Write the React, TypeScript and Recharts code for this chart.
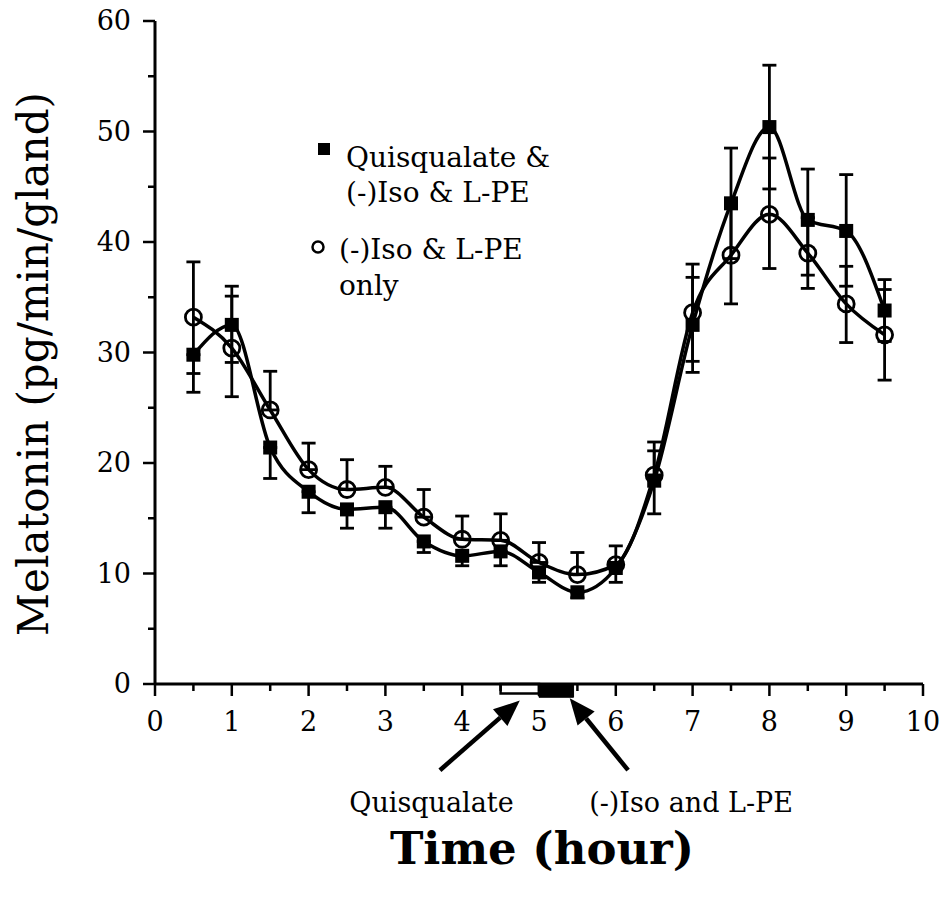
import {
  ErrorBar,
  Line,
  LineChart,
  ReferenceArea,
  ReferenceLine,
  XAxis,
  YAxis,
} from "recharts";

const FONT = "DejaVu Serif";

const hours = [0.5, 1, 1.5, 2, 2.5, 3, 3.5, 4, 4.5, 5, 5.5, 6, 6.5, 7, 7.5, 8, 8.5, 9, 9.5];

// Quisqualate & (-)Iso & L-PE
const quisMean = [29.8, 32.5, 21.4, 17.4, 15.8, 16.0, 12.9, 11.6, 12.0, 10.1, 8.3, 10.5, 18.4, 32.5, 43.5, 50.4, 42.0, 41.0, 33.8];
const quisErrLow = [3.4, 3.4, 2.8, 1.9, 1.7, 1.9, 1.0, 0.9, 1.3, 0.9, 0.5, 1.3, 3.0, 4.3, 5.0, 5.6, 5.0, 5.0, 2.8];
const quisErrHigh = [0, 3.5, 0, 0, 0, 0, 0, 0, 0, 0, 0, 0, 2.7, 4.3, 5.0, 5.6, 4.6, 5.1, 2.8];

// (-)Iso & L-PE only
const isoMean = [33.2, 30.4, 24.8, 19.4, 17.6, 17.8, 15.1, 13.1, 13.0, 11.0, 9.9, 10.8, 18.9, 33.6, 38.8, 42.5, 39.0, 34.4, 31.6];
const isoErrLow = [5.1, 4.4, 0, 0, 0, 0, 0, 0, 0, 0, 0, 0, 0, 4.4, 4.4, 4.9, 3.2, 3.5, 4.1];
const isoErrHigh = [5.0, 4.7, 3.5, 2.4, 2.7, 1.9, 2.5, 2.1, 2.4, 1.8, 2.0, 1.7, 3.0, 4.4, 4.4, 5.1, 3.2, 3.4, 4.1];

const xTicks = [0, 0.5, 1, 1.5, 2, 2.5, 3, 3.5, 4, 4.5, 5, 5.5, 6, 6.5, 7, 7.5, 8, 8.5, 9, 9.5, 10];
const yTicks = [0, 5, 10, 15, 20, 25, 30, 35, 40, 45, 50, 55, 60];

// treatment periods drawn on the time axis
const quisPeriod = [4.5, 5.0];
const isoPeriod = [5.0, 5.45];

// arrows: tail -> tip in data units
const arrowLabels = ["Quisqualate", "(-)Iso and L-PE"];
const arrowTails = [
  { x: 3.71, y: -7.8 },
  { x: 6.16, y: -7.8 },
];
const arrowTips = [
  { x: 4.75, y: -1.5 },
  { x: 5.4, y: -1.3 },
];
const arrowLabelX = [3.6, 6.98];

const legendLines = [
  ["Quisqualate &", "(-)Iso & L-PE"],
  ["(-)Iso & L-PE", "only"],
];

const rows = hours.map((h, i) => ({
  hour: h,
  quis: quisMean[i],
  quisErr: [quisErrLow[i], quisErrHigh[i]],
  iso: isoMean[i],
  isoErr: [isoErrLow[i], isoErrHigh[i]],
}));

function XTick(props: any) {
  const { x, y, payload } = props;
  const major = Number.isInteger(payload.value);
  return (
    <g>
      <line x1={x} y1={y} x2={x} y2={y + (major ? 12 : 7)} stroke="#000" strokeWidth={2.5} />
      {major && (
        <text x={x} y={y + 47} textAnchor="middle" fontFamily={FONT} fontSize={27} fill="#000">
          {payload.value}
        </text>
      )}
    </g>
  );
}

function YTick(props: any) {
  const { x, y, payload } = props;
  const major = payload.value % 10 === 0;
  return (
    <g>
      <line x1={x} y1={y} x2={x - (major ? 12 : 7)} y2={y} stroke="#000" strokeWidth={2.5} />
      {major && (
        <text x={x - 24} y={y + 9} textAnchor="end" fontFamily={FONT} fontSize={27} fill="#000">
          {payload.value}
        </text>
      )}
    </g>
  );
}

function SquareDot(props: any) {
  const { cx, cy, index } = props;
  if (cx == null || cy == null) return <g key={`sq-${index}`} />;
  return <rect key={`sq-${index}`} x={cx - 7} y={cy - 7} width={14} height={14} fill="#000" />;
}

function ArrowShape(props: any) {
  const { x1, y1, x2, y2 } = props;
  const dx = x2 - x1;
  const dy = y2 - y1;
  const len = Math.sqrt(dx * dx + dy * dy);
  const ux = dx / len;
  const uy = dy / len;
  const headLen = 26;
  const headHalf = 11;
  const bx = x2 - ux * headLen;
  const by = y2 - uy * headLen;
  const pts = `${x2},${y2} ${bx - uy * headHalf},${by + ux * headHalf} ${bx + uy * headHalf},${by - ux * headHalf}`;
  return (
    <g>
      <line x1={x1} y1={y1} x2={bx} y2={by} stroke="#000" strokeWidth={4.5} />
      <polygon points={pts} fill="#000" />
    </g>
  );
}

export default function App() {
  return (
    <div style={{ position: "absolute", left: 0, top: 0, background: "#fff" }}>
      <LineChart
        width={942}
        height={909}
        data={rows}
        margin={{ top: 21, right: 19, left: 0, bottom: 0 }}
      >
        <XAxis
          type="number"
          dataKey="hour"
          domain={[0, 10]}
          ticks={xTicks}
          interval={0}
          tickSize={0}
          tickMargin={0}
          tickLine={false}
          tick={<XTick />}
          axisLine={{ stroke: "#000", strokeWidth: 3 }}
          height={225}
        />
        <YAxis
          type="number"
          domain={[0, 60]}
          ticks={yTicks}
          interval={0}
          tickSize={0}
          tickMargin={0}
          tickLine={false}
          tick={<YTick />}
          axisLine={{ stroke: "#000", strokeWidth: 3 }}
          width={155}
        />
        <ReferenceArea
          x1={quisPeriod[0]}
          x2={quisPeriod[1]}
          y1={-0.85}
          y2={0}
          ifOverflow="visible"
          fill="#fff"
          fillOpacity={1}
          stroke="#000"
          strokeWidth={2.5}
        />
        <ReferenceArea
          x1={isoPeriod[0]}
          x2={isoPeriod[1]}
          y1={-1.2}
          y2={0}
          ifOverflow="visible"
          fill="#000"
          fillOpacity={1}
          stroke="#000"
        />
        {arrowTails.map((tail, i) => (
          <ReferenceLine
            key={`arrow-${i}`}
            segment={[tail, arrowTips[i]]}
            ifOverflow="visible"
            shape={ArrowShape}
          />
        ))}
        <Line
          type="monotone"
          dataKey="iso"
          name="(-)Iso & L-PE only"
          stroke="#000"
          strokeWidth={3.5}
          dot={{ r: 8, fill: "none", stroke: "#000", strokeWidth: 2.8 }}
          activeDot={false}
          isAnimationActive={false}
        >
          <ErrorBar dataKey="isoErr" direction="y" width={7} stroke="#000" strokeWidth={2.8} isAnimationActive={false} />
        </Line>
        <Line
          type="monotone"
          dataKey="quis"
          name="Quisqualate & (-)Iso & L-PE"
          stroke="#000"
          strokeWidth={3.5}
          dot={<SquareDot />}
          activeDot={false}
          isAnimationActive={false}
        >
          <ErrorBar dataKey="quisErr" direction="y" width={7} stroke="#000" strokeWidth={2.8} isAnimationActive={false} />
        </Line>
        {/* legend */}
        <g transform="translate(300, 130)">
          <rect x={18} y={13} width={12} height={12} fill="#000" />
          <text fontFamily={FONT} fontSize={28} fill="#000">
            <tspan x={46} y={37}>{legendLines[0][0]}</tspan>
            <tspan x={46} y={72}>{legendLines[0][1]}</tspan>
          </text>
          <circle cx={18} cy={117} r={5.5} fill="none" stroke="#000" strokeWidth={2.5} />
          <text fontFamily={FONT} fontSize={28} fill="#000">
            <tspan x={39} y={129}>{legendLines[1][0]}</tspan>
            <tspan x={39} y={165}>{legendLines[1][1]}</tspan>
          </text>
        </g>
        <text
          transform="translate(48, 364) rotate(-90)"
          textAnchor="middle"
          fontFamily={FONT}
          fontSize={42}
          fill="#000"
        >
          Melatonin (pg/min/gland)
        </text>
        {arrowLabels.map((label, i) => (
          <text
            key={label}
            x={155 + arrowLabelX[i] * 76.8}
            y={812}
            textAnchor="middle"
            fontFamily={FONT}
            fontSize={27}
            fill="#000"
          >
            {label}
          </text>
        ))}
        <text
          x={542}
          y={864}
          textAnchor="middle"
          fontFamily={FONT}
          fontSize={45}
          fontWeight="bold"
          fill="#000"
        >
          Time (hour)
        </text>
      </LineChart>
    </div>
  );
}
